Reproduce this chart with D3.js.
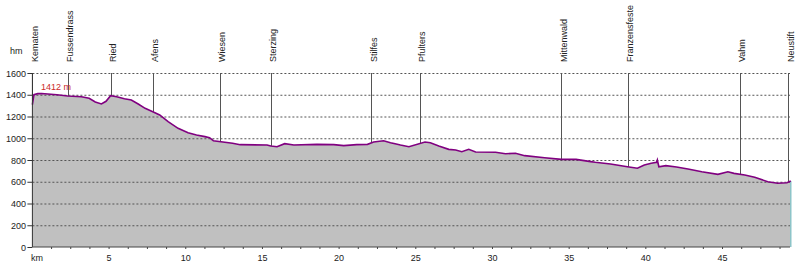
<!DOCTYPE html>
<html lang="de">
<head>
<meta charset="UTF-8" />
<script src="https://d3js.org/d3.v7.min.js"></script>
<title>Höhenprofil</title>
<style>
  body { margin: 0; background: #fff; }
  text { font-family: "Liberation Sans", Arial, sans-serif; }
</style>
</head>
<body>
<script>
  const width = 800, height = 266

  // profile: distance (km) and elevation (m)
  const km = [0, 0.1, 0.35, 0.6, 1.6, 2.3, 3.2, 3.7, 4.1, 4.5, 4.8, 5.1, 5.5, 6.0, 6.45, 6.9, 7.35, 7.85, 8.3, 8.85,
    9.5, 10.15, 10.7, 11.25, 11.55, 11.8, 13.05, 13.55, 15.3, 15.55, 15.95, 16.45, 17.05, 18.55, 19.65, 20.3, 21.15,
    21.85, 22.25, 22.9, 23.35, 23.65, 24.0, 24.55, 25.6, 25.95, 26.5, 27.15, 27.6, 28.0, 28.45, 28.9, 30.2, 30.85,
    31.5, 32.1, 33.4, 34.5, 35.45, 36.4, 36.7, 37.7, 38.8, 39.45, 39.9, 40.35, 40.7, 40.75, 40.85, 41.3, 42.0, 42.75,
    43.65, 44.7, 45.35, 45.75, 46.45, 47.1, 47.95, 48.6, 49.2, 49.45]
  const elev = [1310, 1400, 1410, 1412, 1400, 1388, 1382, 1367, 1333, 1315, 1340, 1391, 1382, 1364, 1352, 1315, 1275, 1244, 1214, 1152,
    1091, 1050, 1030, 1015, 1005, 977, 954, 941, 938, 929, 922, 950, 938, 944, 941, 932, 941,
    944, 965, 977, 959, 950, 938, 922, 965, 959, 929, 898, 892, 876, 898, 873, 871, 858,
    862, 840, 821, 806, 806, 785, 779, 763, 738, 724, 754, 770, 779, 800, 738, 748, 736, 717,
    692, 668, 692, 677, 662, 641, 600, 586, 591, 607]

  // places along the route
  const places = ['Kematen', 'Fussendrass', 'Ried', 'Afens', 'Wiesen', 'Sterzing', 'Stilfes', 'Pfulters',
    'Mittenwald', 'Franzensfeste', 'Vahm', 'Neustift']
  const placeKm = [0, 2.3, 5.12, 7.86, 12.23, 15.55, 22.1, 25.27, 34.5, 38.83, 46.13, 49.3]

  const yTicks = [0, 200, 400, 600, 800, 1000, 1200, 1400, 1600]
  const xTicks = [5, 10, 15, 20, 25, 30, 35, 40, 45]
  const maxLabel = '1412 m'

  const data = km.map((d, i) => ({ km: d, h: elev[i] }))

  const x = d3.scaleLinear().domain([0, 49.4]).range([32.4, 790])
  const y = d3.scaleLinear().domain([0, 1600]).range([247, 73])

  const svg = d3.select('body').append('svg').attr('width', width).attr('height', height)

  // filled profile
  svg.append('path').datum(data)
    .attr('d', d3.area().x(d => x(d.km)).y0(y(0)).y1(d => y(d.h)))
    .attr('fill', '#c0c0c0')

  // teal edge at the end
  const last = data[data.length - 1]
  svg.append('line')
    .attr('x1', x(last.km)).attr('x2', x(last.km))
    .attr('y1', y(last.h)).attr('y2', y(0))
    .attr('stroke', '#8cc4c8').attr('stroke-width', 1.5)

  // dashed grid
  svg.append('g').selectAll('line').data(yTicks.slice(1)).enter()
    .append('line')
    .attr('x1', x(0)).attr('x2', 790)
    .attr('y1', d => y(d) + 0.5).attr('y2', d => y(d) + 0.5)
    .attr('stroke', '#555').attr('stroke-dasharray', '2,2')

  // place markers
  const interp = k => {
    const i = d3.bisector(d => d.km).left(data, k)
    if (i <= 0) return data[0].h
    if (i >= data.length) return last.h
    const a = data[i - 1], b = data[i]
    return a.h + (b.h - a.h) * (k - a.km) / (b.km - a.km)
  }
  const pl = svg.append('g').selectAll('g').data(places).enter().append('g')
  pl.append('line')
    .attr('x1', (d, i) => Math.round(x(placeKm[i])) + 0.5)
    .attr('x2', (d, i) => Math.round(x(placeKm[i])) + 0.5)
    .attr('y1', y(1600))
    .attr('y2', (d, i) => y(interp(placeKm[i])))
    .attr('stroke', '#555')
  pl.append('text')
    .attr('transform', (d, i) => `translate(${x(placeKm[i]) + 5.5},62) rotate(-90)`)
    .attr('font-size', 9).attr('fill', '#222')
    .text(d => d)

  // profile line
  svg.append('path').datum(data)
    .attr('d', d3.line().x(d => x(d.km)).y(d => y(d.h)))
    .attr('fill', 'none').attr('stroke', '#800080').attr('stroke-width', 1.6)

  // axes
  svg.append('line').attr('x1', x(0)).attr('x2', x(0)).attr('y1', y(1600)).attr('y2', y(0))
    .attr('stroke', '#333')
  svg.append('line').attr('x1', x(0)).attr('x2', 790).attr('y1', y(0)).attr('y2', y(0))
    .attr('stroke', '#444')

  svg.append('g').selectAll('line').data(yTicks).enter().append('line')
    .attr('x1', x(0) - 5).attr('x2', x(0))
    .attr('y1', d => y(d) + 0.5).attr('y2', d => y(d) + 0.5)
    .attr('stroke', '#333')
  svg.append('g').selectAll('text').data(yTicks).enter().append('text')
    .attr('x', 26).attr('y', d => y(d) + 3.5)
    .attr('text-anchor', 'end').attr('font-size', 9).attr('fill', '#222')
    .text(d => d)

  svg.append('g').selectAll('line').data(d3.range(1.25, 49.4, 1.25)).enter().append('line')
    .attr('x1', d => x(d)).attr('x2', d => x(d))
    .attr('y1', y(0)).attr('y2', y(0) + 2)
    .attr('stroke', '#444')
  svg.append('g').selectAll('text').data(xTicks).enter().append('text')
    .attr('x', d => x(d)).attr('y', 261)
    .attr('text-anchor', 'middle').attr('font-size', 9).attr('fill', '#222')
    .text(d => d)

  svg.append('text').attr('x', 31).attr('y', 261).attr('font-size', 9).attr('fill', '#222').text('km')
  svg.append('text').attr('x', 10).attr('y', 54).attr('font-size', 9).attr('fill', '#222').text('hm')

  svg.append('text').attr('x', 41).attr('y', 90).attr('font-size', 9).attr('fill', '#cc2a2a').text(maxLabel)
</script>
</body>
</html>
